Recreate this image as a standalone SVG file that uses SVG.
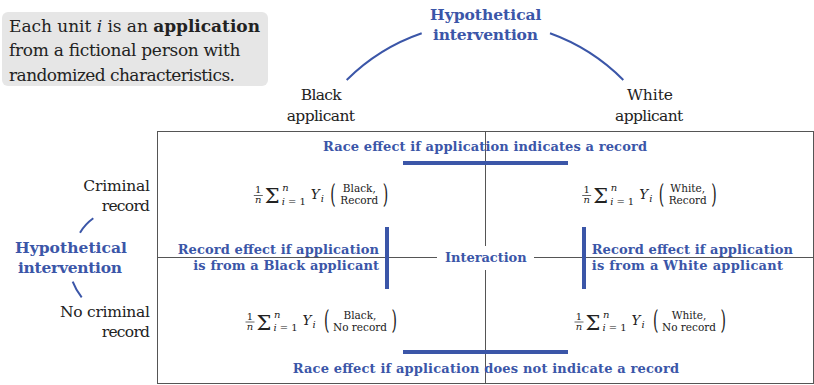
<svg xmlns="http://www.w3.org/2000/svg" width="814" height="385" viewBox="0 0 814 385">
<style>
.t{font-family:"DejaVu Serif","Liberation Serif","Noto Serif",serif;fill:#222}
.info{font-size:17px}
.lab{font-size:15.5px}
.blue{font-family:"DejaVu Serif","Liberation Serif","Noto Serif",serif;font-weight:bold;fill:#3b56a8}
.hyp{font-size:15.5px}
.eff{font-size:13px}
.m10{font-family:"DejaVu Serif","Liberation Serif",serif;font-size:10px;fill:#222}
.it{font-style:italic}
.m11{font-family:"DejaVu Serif","Liberation Serif",serif;font-size:10.5px;fill:#222}
.sig{font-family:"DejaVu Serif","Liberation Serif",serif;font-size:21px;fill:#222}
.Y{font-family:"DejaVu Serif","Liberation Serif",serif;font-size:13.5px;font-style:italic;fill:#222}
.par{font-family:"DejaVu Serif","Liberation Serif",serif;font-size:14px;fill:#222}
.grid{stroke:#555;stroke-width:1;fill:none}
.fb{stroke:#222;stroke-width:0.7}
.bar{fill:#3b56a8}
.arc{stroke:#3b56a8;stroke-width:2;fill:none}
</style>
<defs>
<g id="pre">
<text class="m10" x="5" y="-5.5" text-anchor="middle">1</text>
<line class="fb" x1="0.5" y1="-3" x2="9.5" y2="-3"/>
<text class="m10 it" x="5" y="4.5" text-anchor="middle">n</text>
<text class="sig" x="11.5" y="4.5">Σ</text>
<text class="m10 it" x="29" y="-7.5">n</text>
<text class="m10" x="28.5" y="6" textLength="24" lengthAdjust="spacing"><tspan class="it">i</tspan>=1</text>
<text class="Y" x="57.5" y="0">Y</text>
<text class="m10 it" x="67.5" y="3">i</text>
</g>
</defs>

<g id="info-box">
<rect x="2" y="12" width="266" height="74" rx="6" fill="#e6e6e6"/>
<text class="t info" x="9" y="31.5" textLength="251" lengthAdjust="spacing">Each unit <tspan font-style="italic">i</tspan> is an <tspan font-weight="bold">application</tspan></text>
<text class="t info" x="9" y="56" textLength="231.5" lengthAdjust="spacing">from a fictional person with</text>
<text class="t info" x="9" y="80.5" textLength="226" lengthAdjust="spacing">randomized characteristics.</text>
</g>

<g id="top-intervention">
<text class="blue hyp" x="430" y="20" textLength="111.5" lengthAdjust="spacing">Hypothetical</text>
<text class="blue hyp" x="433" y="40" textLength="105" lengthAdjust="spacing">intervention</text>
</g>

<g id="left-intervention">
<text class="blue hyp" x="15" y="253.3" textLength="112" lengthAdjust="spacing">Hypothetical</text>
<text class="blue hyp" x="18" y="273.3" textLength="104" lengthAdjust="spacing">intervention</text>
</g>

<g id="black-applicant">
<text class="t lab" x="300.7" y="100" textLength="41" lengthAdjust="spacing">Black</text>
<text class="t lab" x="286.7" y="120.5" textLength="68.3" lengthAdjust="spacing">applicant</text>
</g>

<g id="white-applicant">
<text class="t lab" x="627" y="100" textLength="46" lengthAdjust="spacing">White</text>
<text class="t lab" x="615" y="120.5" textLength="68.3" lengthAdjust="spacing">applicant</text>
</g>

<g id="criminal-record">
<text class="t lab" x="83.3" y="190.7" textLength="66.7" lengthAdjust="spacing">Criminal</text>
<text class="t lab" x="101.7" y="210.7" textLength="48.3" lengthAdjust="spacing">record</text>
</g>

<g id="no-criminal-record">
<text class="t lab" x="60" y="316.7" textLength="90" lengthAdjust="spacing">No criminal</text>
<text class="t lab" x="101.7" y="336.7" textLength="48.3" lengthAdjust="spacing">record</text>
</g>

<g id="connectors">
<rect class="grid" x="157.5" y="131.5" width="656" height="252"/>
<path class="grid" d="M157.5 257.5H437M534 257.5H813.5M485.5 131.5V246M485.5 270V383.5"/>
<path class="arc" d="M346.7 80A197.5 197.5 0 0 1 421.7 33.3"/>
<path class="arc" d="M550 33.3A197.5 197.5 0 0 1 623.3 80"/>
<path class="arc" d="M80 232.7A49 49 0 0 1 93.3 218.3"/>
<path class="arc" d="M72.7 281.7A55 55 0 0 0 81.7 297.3"/>
<rect class="bar" x="403" y="161" width="165" height="4"/>
<rect class="bar" x="403" y="350" width="165" height="4"/>
<rect class="bar" x="385" y="227" width="4" height="62"/>
<rect class="bar" x="582" y="227" width="4" height="62"/>
</g>

<g id="race-effect-record">
<text class="blue eff" x="323" y="150.5" textLength="324" lengthAdjust="spacing">Race effect if application indicates a record</text>
</g>
<g id="race-effect-no-record">
<text class="blue eff" x="292.7" y="373" textLength="386.3" lengthAdjust="spacing">Race effect if application does not indicate a record</text>
</g>
<g id="record-effect-black">
<text class="blue eff" x="177.7" y="254" textLength="201.3" lengthAdjust="spacing">Record effect if application</text>
<text class="blue eff" x="193.3" y="270" textLength="185.7" lengthAdjust="spacing">is from a Black applicant</text>
</g>
<g id="record-effect-white">
<text class="blue eff" x="591.7" y="254" textLength="201.3" lengthAdjust="spacing">Record effect if application</text>
<text class="blue eff" x="591.7" y="270" textLength="191.3" lengthAdjust="spacing">is from a White applicant</text>
</g>
<g id="interaction">
<text class="blue eff" x="445" y="262.3" textLength="81.7" lengthAdjust="spacing">Interaction</text>
</g>

<g id="mean-black-record" transform="translate(253.3,198.5)">
<use href="#pre"/>
<text class="par" transform="translate(77,4.2) scale(1,1.85)">(</text>
<text class="m11" x="106" y="-6.5" text-anchor="middle">Black,</text>
<text class="m11" x="106" y="5.5" text-anchor="middle">Record</text>
<text class="par" transform="translate(129.5,4.2) scale(1,1.85)">)</text>
</g>

<g id="mean-white-record" transform="translate(581.7,198.5)">
<use href="#pre"/>
<text class="par" transform="translate(77,4.2) scale(1,1.85)">(</text>
<text class="m11" x="106" y="-6.5" text-anchor="middle">White,</text>
<text class="m11" x="106" y="5.5" text-anchor="middle">Record</text>
<text class="par" transform="translate(129.5,4.2) scale(1,1.85)">)</text>
</g>

<g id="mean-black-norecord" transform="translate(245,325)">
<use href="#pre"/>
<text class="par" transform="translate(79,4.2) scale(1,1.85)">(</text>
<text class="m11" x="115" y="-6.5" text-anchor="middle">Black,</text>
<text class="m11" x="115" y="5.5" text-anchor="middle">No record</text>
<text class="par" transform="translate(146.5,4.2) scale(1,1.85)">)</text>
</g>

<g id="mean-white-norecord" transform="translate(574,325)">
<use href="#pre"/>
<text class="par" transform="translate(79,4.2) scale(1,1.85)">(</text>
<text class="m11" x="115" y="-6.5" text-anchor="middle">White,</text>
<text class="m11" x="115" y="5.5" text-anchor="middle">No record</text>
<text class="par" transform="translate(146.5,4.2) scale(1,1.85)">)</text>
</g>
</svg>
